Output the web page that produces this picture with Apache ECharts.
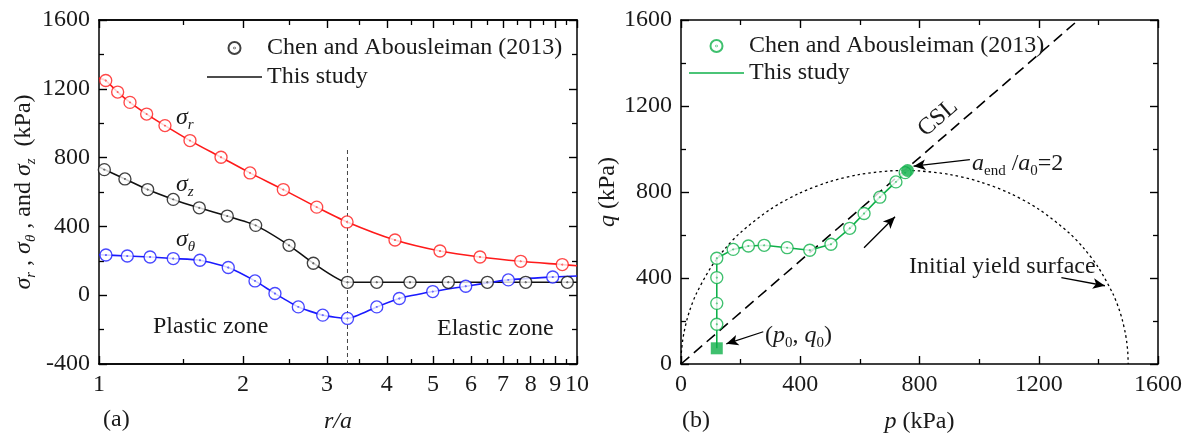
<!DOCTYPE html>
<html>
<head>
<meta charset="utf-8">
<script src="https://cdn.jsdelivr.net/npm/echarts@6/dist/echarts.min.js"></script>
<style>
  html, body { margin: 0; padding: 0; background: #fff; }
  #chart { width: 1187px; height: 439px; }
</style>
</head>
<body>
<div id="chart"></div>
<script>
// ---------- panel (a): stresses around the cavity against r/a ----------
const radialMajorTicks = [1, 2, 3, 4, 5, 6, 7, 8, 9, 10];
const radialMinorTicks = [1.5, 2.5, 3.5, 4.5, 5.5, 6.5, 7.5, 8.5, 9.5];
const plasticRadius = 3.31;          // elastic-plastic boundary r/a
const boundaryExtent = [-400, 850];  // span of the dashed boundary marker (kPa)

// Chen and Abousleiman (2013) points
const rSigmaR = [1.033, 1.094, 1.161, 1.258, 1.374, 1.550, 1.800, 2.070, 2.430, 2.854, 3.303, 4.161, 5.169, 6.267, 7.625, 9.316];
const sigmaR  = [1248, 1181, 1121, 1053, 986, 899, 802, 711, 614, 512, 426, 321, 257, 222, 197, 178];
const rSigmaZ = [1.026, 1.133, 1.264, 1.430, 1.621, 1.855, 2.127, 2.498, 2.808, 3.31, 3.811, 4.473, 5.380, 6.493, 7.810, 9.544];
const sigmaZ  = [730, 676, 614, 557, 508, 460, 406, 290, 186, 75, 75, 75, 75, 75, 75, 75];
const rSigmaT = [1.034, 1.146, 1.279, 1.430, 1.626, 1.864, 2.120, 2.334, 2.612, 2.938, 3.31, 3.811, 4.249, 4.991, 5.851, 7.183, 8.896];
const sigmaT  = [234, 228, 222, 213, 203, 161, 83, 10, -68, -116, -135, -68, -19, 21, 52, 89, 106];

// This study: model curves
const rModelR = [1, 1.033, 1.094, 1.161, 1.258, 1.374, 1.550, 1.800, 2.070, 2.430, 2.854, 3.303, 4.161, 5.169, 6.267, 7.625, 9.316, 10];
const modelR  = [1262, 1248, 1181, 1121, 1053, 986, 899, 802, 711, 614, 512, 426, 321, 257, 222, 197, 178, 171];
const rModelZ = [1, 1.133, 1.264, 1.430, 1.621, 1.855, 2.127, 2.498, 2.808, 3.31, 10];
const modelZ  = [745, 676, 614, 557, 508, 460, 406, 290, 186, 75, 75];
const rModelT = [1, 1.146, 1.279, 1.430, 1.626, 1.864, 2.120, 2.334, 2.612, 2.938, 3.31, 3.811, 4.249, 4.991, 5.851, 7.183, 8.896, 10];
const modelT  = [235, 228, 222, 213, 203, 161, 83, 10, -68, -116, -135, -68, -19, 21, 52, 89, 106, 112];

// ---------- panel (b): stress path in p-q space ----------
const pPath = [120, 120, 120, 120, 175, 226, 279, 356, 432, 503, 566, 614, 667, 721, 752];
const qPath = [185, 282, 402, 492, 533, 549, 552, 541, 529, 557, 631, 700, 776, 847, 890];
const pStart = [120], qStart = [73];   // (p0, q0)
const pEnd = [760], qEnd = [900];      // a_end / a0 = 2
const pCSL = [0, 1333], qCSL = [0, 1600];
// initial yield surface
const pYield = [0, 1, 2, 5, 10, 20, 30, 50, 100, 150, 200, 300, 400, 500, 600, 700, 750, 800, 900, 1000, 1100, 1200, 1300, 1350, 1400, 1450, 1470, 1480, 1490, 1495, 1498, 1499, 1500];
const qYield = [0, 46.5, 65.7, 103.8, 146.5, 206.5, 252, 323.1, 449, 540, 611.9, 720, 796, 848.5, 881.8, 898, 900, 898, 881.8, 848.5, 796, 720, 611.9, 540, 449, 323.1, 252, 206.5, 146.5, 103.8, 65.7, 46.5, 0];
// annotation arrows: [pFrom, qFrom, pTo, qTo]
const arrowLines = [
  [276, 150, 152, 94],
  [969, 951, 780, 920],
  [614, 541, 718, 685],
  [1276, 402, 1422, 364]
];

const pqTicks = { min: 0, max: 1600, interval: 400 };
const stressTicks = { min: -400, max: 1600, interval: 400 };

const legendText = {
  labA: 'Chen and Abousleiman (2013)', modelA: 'This study',
  labB: 'Chen and Abousleiman (2013)', modelB: 'This study'
};

// ---------- styling ----------
const FONT = "'Liberation Serif', 'Times New Roman', serif";
const INK = '#1a1a1a';
const FS = 24;
const RED = '#ff1a1a', BLUE = '#1a1aff', BLACK = '#111', GREEN = '#0fb04a';
const RING = 'path://M0,10A10,10,0,1,1,20,10A10,10,0,1,1,0,10ZM9.5,10A0.5,0.5,0,1,1,10.5,10A0.5,0.5,0,1,1,9.5,10Z';
const BAR = 'path://M0,0H100V3H0Z';

const rich = {
  n:   { fontFamily: FONT, fontSize: FS, color: INK },
  i:   { fontFamily: FONT, fontSize: FS, color: INK, fontStyle: 'italic' },
  sub: { fontFamily: FONT, fontSize: 15, color: INK, fontStyle: 'italic', padding: [14, 0, 0, 0] },
  sn:  { fontFamily: FONT, fontSize: 15, color: INK, padding: [14, 0, 0, 0] }
};

const lg = Math.log10;
const pairs = (xs, ys, fx) => xs.map((x, k) => [fx ? fx(x) : x, ys[k]]);

function frameAxis(extra) {
  return Object.assign({
    type: 'value',
    axisLine: { show: true, onZero: false, lineStyle: { color: '#000', width: 1.5 } },
    axisTick: { show: true, inside: true, length: 8, lineStyle: { color: '#000', width: 1.4 } },
    axisLabel: { show: false },
    splitLine: { show: false },
    minorSplitLine: { show: false }
  }, extra);
}
const tickLabel = { show: true, margin: 9, fontFamily: FONT, fontSize: FS, color: INK, formatter: v => String(v) };
const minorTick = { show: true, splitNumber: 2, length: 5, lineStyle: { color: '#000', width: 1.3 } };
const majorLogTick = { show: true, inside: true, length: 8, lineStyle: { color: '#000', width: 1.4 }, customValues: radialMajorTicks.map(lg) };
const minorLogTick = { show: true, inside: true, length: 5, lineStyle: { color: '#000', width: 1.3 }, customValues: radialMinorTicks.map(lg) };

const xAxes = [
  // panel (a) bottom: major ticks with labels
  frameAxis({ gridIndex: 0, position: 'bottom', min: 0, max: 1, axisTick: majorLogTick,
    axisLabel: Object.assign({}, tickLabel, { customValues: radialMajorTicks.map(lg), formatter: v => String(Math.round(Math.pow(10, v))) }),
    name: '{i|r/a}', nameLocation: 'middle', nameGap: 46, nameTextStyle: { rich } }),
  // panel (a) top mirror
  frameAxis({ gridIndex: 0, position: 'top', min: 0, max: 1, axisTick: majorLogTick }),
  // panel (a) half-step ticks (overlay grid with the same frame)
  frameAxis({ gridIndex: 2, position: 'bottom', min: 0, max: 1, axisTick: minorLogTick }),
  frameAxis({ gridIndex: 2, position: 'top', min: 0, max: 1, axisTick: minorLogTick }),
  // panel (b) bottom
  frameAxis(Object.assign({ gridIndex: 1, position: 'bottom', minorTick, axisLabel: tickLabel,
    name: '{i|p}{n| (kPa)}', nameLocation: 'middle', nameGap: 46, nameTextStyle: { rich } }, pqTicks)),
  // panel (b) top mirror
  frameAxis(Object.assign({ gridIndex: 1, position: 'top', minorTick }, pqTicks))
];

const yAxes = [
  frameAxis(Object.assign({ gridIndex: 0, position: 'left', minorTick, axisLabel: tickLabel,
    name: '{i|σ}{sub|r}{n| , }{i|σ}{sub|θ}{n| , and }{i|σ}{sub|z}{n|  (kPa)}',
    nameLocation: 'middle', nameGap: 60, nameTextStyle: { rich } }, stressTicks)),
  frameAxis(Object.assign({ gridIndex: 0, position: 'right', minorTick }, stressTicks)),
  frameAxis(Object.assign({ gridIndex: 1, position: 'left', minorTick, axisLabel: tickLabel,
    name: '{i|q}{n| (kPa)}', nameLocation: 'middle', nameGap: 48, nameTextStyle: { rich } }, pqTicks)),
  frameAxis(Object.assign({ gridIndex: 1, position: 'right', minorTick }, pqTicks)),
  { type: 'value', gridIndex: 2, show: false, min: -400, max: 1600 }
];

function modelLine(name, data, color, xi, yi, smooth) {
  return { type: 'line', name, xAxisIndex: xi, yAxisIndex: yi, data, symbol: 'none', smooth,
    lineStyle: { color, width: 1.6 }, itemStyle: { color }, z: 3 };
}
function ringPoints(name, data, color, xi, yi) {
  return { type: 'scatter', name, xAxisIndex: xi, yAxisIndex: yi, data, symbol: RING, symbolSize: 12,
    itemStyle: { color: '#fff', borderColor: color, borderWidth: 1.35 }, z: 4 };
}

const series = [
  // panel (a)
  { type: 'line', name: 'boundary', xAxisIndex: 0, yAxisIndex: 0, symbol: 'none',
    data: boundaryExtent.map(v => [lg(plasticRadius), v]),
    lineStyle: { color: '#444', width: 1, type: [4, 3] }, z: 2 },
  modelLine('σr model', pairs(rModelR, modelR, lg), RED, 0, 0, 0.25),
  modelLine('modelA', pairs(rModelZ, modelZ, lg), BLACK, 0, 0, 0.2),
  modelLine('σθ model', pairs(rModelT, modelT, lg), BLUE, 0, 0, 0.2),
  ringPoints('labA', pairs(rSigmaZ, sigmaZ, lg), BLACK, 0, 0),
  ringPoints('σr lab', pairs(rSigmaR, sigmaR, lg), RED, 0, 0),
  ringPoints('σθ lab', pairs(rSigmaT, sigmaT, lg), BLUE, 0, 0),
  // panel (b)
  { type: 'line', name: 'yield', xAxisIndex: 4, yAxisIndex: 2, symbol: 'none', smooth: 0.3,
    data: pairs(pYield, qYield), lineStyle: { color: '#000', width: 1.3, type: [2.5, 3] }, z: 2 },
  { type: 'line', name: 'CSL', xAxisIndex: 4, yAxisIndex: 2, symbol: 'none',
    data: pairs(pCSL, qCSL), lineStyle: { color: '#000', width: 1.6, type: [11, 6] }, z: 2,
    markLine: {
      silent: true, animation: false, symbol: ['none', 'arrow'], symbolSize: [8, 12],
      label: { show: false }, lineStyle: { color: '#000', width: 1.3, type: 'solid' },
      data: arrowLines.map(a => [{ coord: [a[0], a[1]] }, { coord: [a[2], a[3]] }])
    } },
  modelLine('modelB', pairs(pStart.concat(pPath, pEnd), qStart.concat(qPath, qEnd)), GREEN, 4, 2, false),
  ringPoints('labB', pairs(pPath, qPath), GREEN, 4, 2),
  { type: 'scatter', name: 'start', xAxisIndex: 4, yAxisIndex: 2, data: pairs(pStart, qStart),
    symbol: 'rect', symbolSize: 12, itemStyle: { color: GREEN }, z: 5 },
  { type: 'scatter', name: 'end', xAxisIndex: 4, yAxisIndex: 2, data: pairs(pEnd, qEnd),
    symbol: 'circle', symbolSize: 13, itemStyle: { color: GREEN }, z: 5 }
];

const legendBase = {
  orient: 'vertical', itemWidth: 55, itemHeight: 12, itemGap: 5, selectedMode: false,
  formatter: name => legendText[name],
  textStyle: { fontFamily: FONT, fontSize: FS, color: INK }
};

function text(x, y, str, extra) {
  return Object.assign({ type: 'text', x, y, silent: true,
    style: { text: str, rich, fontFamily: FONT, fontSize: FS, fill: INK, align: 'left', verticalAlign: 'middle' } }, extra || {});
}

const graphic = [
  text(176, 118, '{i|σ}{sub|r}'),
  text(176, 185, '{i|σ}{sub|z}'),
  text(176, 240, '{i|σ}{sub|θ}'),
  text(153, 327, '{n|Plastic zone}'),
  text(437, 329, '{n|Elastic zone}'),
  text(103, 420, '{n|(a)}'),
  text(682, 421, '{n|(b)}'),
  text(909, 267, '{n|Initial yield surface}'),
  text(765, 336, '{n|(}{i|p}{sn|0}{n|, }{i|q}{sn|0}{n|)}'),
  text(972, 164, '{i|a}{sn|end}{n| /}{i|a}{sn|0}{n|=2}'),
  { type: 'text', x: 938, y: 118, rotation: 41 * Math.PI / 180, silent: true,
    style: { text: 'CSL', fontFamily: FONT, fontSize: FS, fill: INK, align: 'center', verticalAlign: 'middle' } }
];

const chart = echarts.init(document.getElementById('chart'), null, { renderer: 'canvas' });
chart.setOption({
  animation: false,
  backgroundColor: '#fff',
  grid: [
    { left: 99, top: 20, width: 478, height: 344 },
    { left: 681, top: 20, width: 477, height: 345 },
    { left: 99, top: 20, width: 478, height: 344 }
  ],
  xAxis: xAxes,
  yAxis: yAxes,
  legend: [
    Object.assign({}, legendBase, { left: 202, top: 31,
      data: ['labA', { name: 'modelA', icon: BAR }] }),
    Object.assign({}, legendBase, { left: 684, top: 29, itemGap: 3,
      data: ['labB', { name: 'modelB', icon: BAR }] })
  ],
  series,
  graphic
});
</script>
</body>
</html>
